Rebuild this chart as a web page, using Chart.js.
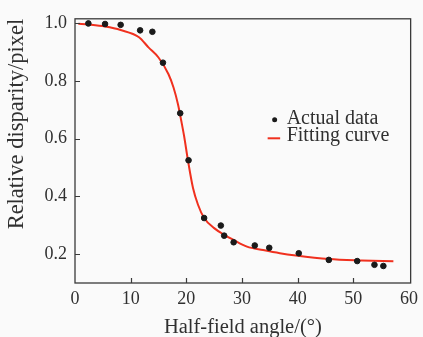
<!DOCTYPE html>
<html>
<head>
<meta charset="utf-8">
<script src="https://cdn.jsdelivr.net/npm/chart.js@4"></script>
<style>
  html, body { margin: 0; padding: 0; background: #fafafa; }
  #wrap { width: 423px; height: 337px; }
</style>
</head>
<body>
<div id="wrap"><canvas id="chart"></canvas></div>
<script>
// measured points
const angleData = [2.4, 5.4, 8.2, 11.7, 13.9, 15.8, 18.9, 20.4, 23.2, 26.2, 26.8, 28.5, 32.3, 34.9, 40.2, 45.6, 50.7, 53.8, 55.4];
const disparityData = [0.999, 0.997, 0.994, 0.975, 0.970, 0.863, 0.688, 0.525, 0.325, 0.299, 0.264, 0.241, 0.230, 0.222, 0.203, 0.180, 0.176, 0.163, 0.159];

// fitted curve
const fitAngle = [0.6, 2.4, 5.4, 8.2, 11.5, 13.2, 15.0, 16.8, 17.7, 18.5, 19.1, 19.6, 20.3, 21.2, 22.1, 23.2, 25.0, 26.8, 28.5, 30.9, 33.8, 36.8, 39.7, 45.6, 51.5, 57.2];
const fitDisparity = [0.998, 0.995, 0.988, 0.976, 0.951, 0.916, 0.881, 0.823, 0.777, 0.719, 0.661, 0.609, 0.524, 0.429, 0.371, 0.325, 0.290, 0.267, 0.249, 0.226, 0.214, 0.203, 0.195, 0.183, 0.178, 0.175];

const xTicks = [0, 10, 20, 30, 40, 50, 60];
const yTicks = [0.2, 0.4, 0.6, 0.8, 1.0];
const legendLabels = ['Actual data', 'Fitting curve'];
const xTitle = 'Half-field angle/(°)';
const yTitle = 'Relative disparity/pixel';

const textColor = '#303030';
const frameColor = '#3a3a3a';
const red = '#f0301e';
const serif = '"Liberation Serif", "Times New Roman", serif';

// frame, inward ticks and legend
const decor = {
    id: 'decor',
    beforeDraw(chart) {
        const c = chart.ctx;
        c.save();
        c.fillStyle = '#fafafa';
        c.fillRect(0, 0, chart.width, chart.height);
        c.restore();
    },
    afterDraw(chart) {
        const c = chart.ctx;
        const a = chart.chartArea;
        const xs = chart.scales.x, ys = chart.scales.y;
        c.save();
        c.strokeStyle = frameColor;
        c.lineWidth = 1.3;
        c.strokeRect(a.left, a.top, a.right - a.left, a.bottom - a.top);
        c.lineWidth = 1.2;
        c.beginPath();
        xTicks.slice(1, -1).forEach(v => {
            const px = Math.round(xs.getPixelForValue(v)) + 0.5;
            c.moveTo(px, a.bottom);
            c.lineTo(px, a.bottom - 5);
        });
        yTicks.forEach(v => {
            const py = Math.round(ys.getPixelForValue(v)) + 0.5;
            c.moveTo(a.left, py);
            c.lineTo(a.left + 5, py);
        });
        c.stroke();

        // legend
        const lx = a.right - 143;
        const ly = a.top + 100;
        c.fillStyle = '#1a1a1a';
        c.beginPath();
        c.arc(lx + 7, ly + 1, 2.5, 0, Math.PI * 2);
        c.fill();
        c.strokeStyle = red;
        c.lineWidth = 2;
        c.beginPath();
        c.moveTo(lx, ly + 19.5);
        c.lineTo(lx + 12.5, ly + 19.5);
        c.stroke();
        c.fillStyle = textColor;
        c.font = '20px ' + serif;
        c.textBaseline = 'alphabetic';
        c.fillText(legendLabels[0], lx + 19, ly + 5.5);
        c.fillText(legendLabels[1], lx + 19, ly + 22);
        c.restore();
    }
};

new Chart(document.getElementById('chart'), {
    data: {
        datasets: [{
            type: 'scatter',
            label: legendLabels[0],
            data: angleData.map((x, i) => ({ x: x, y: disparityData[i] })),
            backgroundColor: '#1a1a1a',
            borderColor: '#1a1a1a',
            pointRadius: 2.8,
            order: 0
        }, {
            type: 'line',
            label: legendLabels[1],
            data: fitAngle.map((x, i) => ({ x: x, y: fitDisparity[i] })),
            borderColor: red,
            borderWidth: 2,
            pointRadius: 0,
            cubicInterpolationMode: 'monotone',
            fill: false,
            order: 1
        }]
    },
    options: {
        responsive: true,
        maintainAspectRatio: false,
        animation: false,
        layout: { padding: { top: 18, right: 6, left: 0, bottom: 0 } },
        plugins: {
            legend: { display: false },
            tooltip: { enabled: false }
        },
        scales: {
            x: {
                type: 'linear',
                min: 0,
                max: 60.3,
                afterBuildTicks: s => { s.ticks = xTicks.map(v => ({ value: v })); },
                afterFit: s => { s.height = 54; },
                grid: { display: false, drawTicks: false },
                border: { display: false },
                ticks: {
                    color: textColor,
                    font: { family: serif, size: 18 },
                    padding: 5,
                    maxRotation: 0
                },
                title: {
                    display: true,
                    text: xTitle,
                    color: textColor,
                    font: { family: serif, size: 20.5, lineHeight: 0.9 },
                    padding: 0
                }
            },
            y: {
                type: 'linear',
                min: 0.1,
                max: 1.015,
                afterBuildTicks: s => { s.ticks = yTicks.map(v => ({ value: v })); },
                afterFit: s => { s.width = 75; },
                grid: { display: false, drawTicks: false },
                border: { display: false },
                ticks: {
                    color: textColor,
                    font: { family: serif, size: 18 },
                    padding: 8,
                    callback: v => v.toFixed(1)
                },
                title: {
                    display: true,
                    text: yTitle,
                    align: 'end',
                    color: textColor,
                    font: { family: serif, size: 22.5, lineHeight: 0.9 },
                    padding: { top: 7, bottom: 0 }
                }
            }
        }
    },
    plugins: [decor]
});
</script>
</body>
</html>
